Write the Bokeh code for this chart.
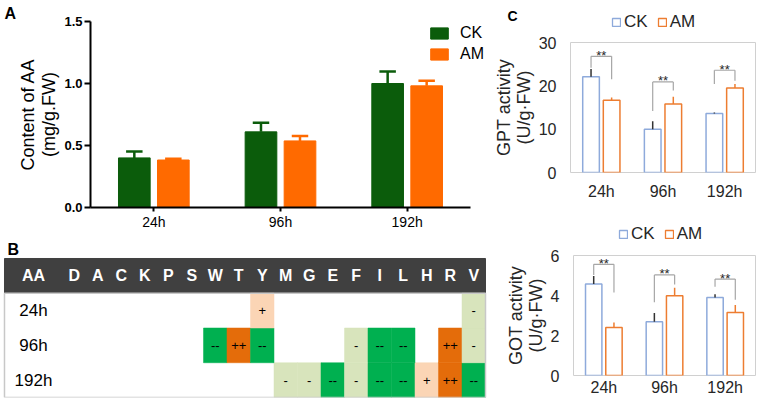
from bokeh.plotting import figure
from bokeh.models import (Range1d, ColumnDataSource, FixedTicker, PrintfTickFormatter,
                          Legend, LegendItem, Label, Title)
from bokeh.layouts import row, column
from bokeh.core.properties import value
from bokeh.embed import file_html
from bokeh.resources import INLINE

FONT = "Liberation Sans"

# ---------------- data ----------------
times = ["24h", "96h", "192h"]

# Panel A: content of AA (mg/g.FW)
aa_ck = [0.40, 0.61, 1.00]
aa_ck_top = [0.452, 0.683, 1.096]
aa_am = [0.383, 0.537, 0.981]
aa_am_top = [0.393, 0.577, 1.023]

# Panel B: amino-acid change table
aa_letters = ["D", "A", "C", "K", "P", "S", "W", "T", "Y", "M", "G", "E", "F", "I", "L", "H", "R", "V"]
row_labels = ["24h", "96h", "192h"]
marks_24h = ["", "", "", "", "", "", "", "", "+", "", "", "", "", "", "", "", "", "-"]
marks_96h = ["", "", "", "", "", "", "--", "++", "--", "", "", "", "-", "--", "--", "", "++", "-"]
marks_192h = ["", "", "", "", "", "", "", "", "", "-", "-", "--", "-", "--", "--", "+", "++", "--"]

# Panel C: GPT activity (U/g.FW)
gpt_ck = [22.1, 10.0, 13.6]
gpt_ck_top = [23.9, 11.8, 13.85]
gpt_am = [16.7, 15.8, 19.5]
gpt_am_top = [17.3, 17.5, 20.4]
gpt_sig_top = [26.8, 20.9, 23.6]
gpt_sig_left = [24.2, 14.2, 20.4]
gpt_sig_right = [21.5, 18.9, 21.2]

# Panel C: GOT activity (U/g.FW)
got_ck = [4.58, 2.69, 3.90]
got_ck_top = [4.98, 3.13, 4.06]
got_am = [2.40, 3.99, 3.15]
got_am_top = [2.65, 4.39, 3.53]
got_sig_top = [5.56, 5.03, 4.82]
got_sig_left = [5.03, 3.66, 4.44]
got_sig_right = [4.15, 4.55, 3.79]

n_t = len(times)
xpos = [i + 0.5 for i in range(n_t)]

# ---------------- Panel A ----------------
CK_A = "#0b5c0b"
AM_A = "#ff6a00"
OFF_A = 0.154
W_A = 0.25
CAP_A = 0.065

pA = figure(width=490, height=232, x_range=Range1d(0, 3.158), y_range=Range1d(0, 1.5),
            output_backend="svg", toolbar_location=None, frame_align=False,
            min_border_left=90, min_border_right=0, min_border_top=21, min_border_bottom=23)
pA.outline_line_color = None
pA.grid.grid_line_color = None

srcA = ColumnDataSource(dict(
    xc=[x - OFF_A for x in xpos], xa=[x + OFF_A for x in xpos],
    xc0=[x - OFF_A - CAP_A for x in xpos], xc1=[x - OFF_A + CAP_A for x in xpos],
    xa0=[x + OFF_A - CAP_A for x in xpos], xa1=[x + OFF_A + CAP_A for x in xpos],
    ck=aa_ck, ckt=aa_ck_top, am=aa_am, amt=aa_am_top))
r_ck = pA.vbar(x="xc", top="ck", width=W_A, source=srcA, fill_color=CK_A, line_color=CK_A)
r_am = pA.vbar(x="xa", top="am", width=W_A, source=srcA, fill_color=AM_A, line_color=AM_A)
for xc, x0, x1, lo, hi, col in [("xc", "xc0", "xc1", "ck", "ckt", CK_A),
                                ("xa", "xa0", "xa1", "am", "amt", AM_A)]:
    pA.segment(x0=xc, x1=xc, y0=lo, y1=hi, source=srcA, line_color=col, line_width=2.5)
    pA.segment(x0=x0, x1=x1, y0=hi, y1=hi, source=srcA, line_color=col, line_width=2.5)

pA.xaxis.ticker = FixedTicker(ticks=xpos)
pA.xaxis.major_label_overrides = {x: t for x, t in zip(xpos, times)}
pA.xaxis.bounds = (0, n_t)
pA.yaxis.ticker = FixedTicker(ticks=[0, 0.5, 1.0, 1.5])
pA.yaxis.formatter = PrintfTickFormatter(format="%.1f")
for ax in (pA.xaxis[0], pA.yaxis[0]):
    ax.axis_line_width = 2
    ax.axis_line_color = "black"
    ax.major_tick_line_width = 2
    ax.major_tick_line_color = "black"
    ax.minor_tick_line_color = None
    ax.major_tick_out = 6
    ax.major_tick_in = 0
    ax.major_label_text_font = FONT
    ax.major_label_text_color = "black"
pA.yaxis.major_label_text_font_style = "bold"
pA.yaxis.major_label_text_font_size = "13px"
pA.yaxis.major_label_standoff = 2
pA.xaxis.major_label_text_font_size = "14px"
pA.xaxis.major_label_standoff = 2
pA.xaxis.major_tick_out = 4
pA.yaxis.axis_label = "Content of AA\n(mg/g.FW)"
pA.yaxis.axis_label_text_font = FONT
pA.yaxis.axis_label_text_font_size = "18px"
pA.yaxis.axis_label_text_font_style = "normal"
pA.yaxis.axis_label_text_color = "black"
pA.yaxis.axis_label_text_line_height = 1.05
pA.yaxis.axis_label_standoff = 2

legA = Legend(items=[LegendItem(label="CK", renderers=[r_ck]), LegendItem(label="AM", renderers=[r_am])],
              location=(338, 144), glyph_width=22, glyph_height=14, label_height=14, spacing=3,
              label_standoff=10, padding=0, margin=0, border_line_color=None,
              background_fill_alpha=0, label_text_font=FONT, label_text_font_size="16px",
              label_text_color="black")
pA.add_layout(legA, "center")
pA.add_layout(Title(text="A", align="left", offset=-86, standoff=0, text_font=FONT,
                    text_font_size="16px", text_font_style="bold", text_color="black"), "above")

# ---------------- Panel B ----------------
GREEN = "#00b050"
ORANGE = "#e46c0a"
LGREEN = "#d8e4bc"
PEACH = "#fbd5b5"
HEAD = "#404040"
col_of = {"--": GREEN, "-": LGREEN, "++": ORANGE, "+": PEACH}

n_col = len(aa_letters)
n_row = len(row_labels)
aa_w = 2.468
pB = figure(width=490, height=166, x_range=Range1d(-2.638, 18.213), y_range=Range1d(0, n_row + 1.748),
            output_backend="svg", toolbar_location=None, x_axis_location=None, y_axis_location=None,
            frame_align=False, min_border_left=0, min_border_right=0, min_border_top=0,
            min_border_bottom=1)
pB.grid.grid_line_color = None
pB.outline_line_color = None

pB.quad(left=[-aa_w], right=[n_col], bottom=[n_row], top=[n_row + 1], fill_color=HEAD, line_color=HEAD)
hx = [-aa_w / 2] + [i + 0.5 for i in range(n_col)]
ht = ["AA"] + aa_letters
pB.text(x=hx, y=[n_row + 0.5] * len(hx), text=ht, text_color="white", text_font=value(FONT),
        text_font_size="16px", text_font_style="bold", text_align="center", text_baseline="middle")

cx, cy, cc, ct = [], [], [], []
for r, marks in enumerate([marks_192h, marks_96h, marks_24h]):
    for i, m in enumerate(marks):
        if m:
            cx.append(i + 0.5)
            cy.append(r + 0.5)
            cc.append(col_of[m])
            ct.append(m)
srcB = ColumnDataSource(dict(x=cx, y=cy, c=cc, t=ct))
pB.rect(x="x", y="y", width=1, height=1, fill_color="c", line_color="c", line_width=0.5, source=srcB)
pB.text(x="x", y="y", text="t", text_font=value(FONT), text_font_size="13px", text_color="black",
        text_align="center", text_baseline="middle", source=srcB)
pB.text(x=[-aa_w / 2] * n_row, y=[n_row - 0.5 - k for k in range(n_row)], text=row_labels,
        text_font=value(FONT), text_font_size="17px", text_color="black", text_align="center",
        text_baseline="middle")
pB.quad(left=[-aa_w], right=[n_col], bottom=[0], top=[n_row], fill_color=None,
        line_color="#c8c8c8", line_width=1.5)
pB.add_layout(Label(x=7, y=157, x_units="screen", y_units="screen", text="B", text_font=FONT,
                    text_font_size="16px", text_font_style="bold", text_baseline="top",
                    text_color="black"))

# ---------------- Panel C ----------------
CK_C = "#8eaadb"
AM_C = "#ed7d31"
TXT = "#262626"
BRK = "#a6a6a6"


def header_c(height, leg_x, leg_y, letter=None):
    h = figure(width=267, height=height, x_range=Range1d(0, 1), y_range=Range1d(0, 1),
               output_backend="svg", toolbar_location=None, x_axis_location=None,
               y_axis_location=None, frame_align=False, min_border=0)
    h.grid.grid_line_color = None
    h.outline_line_color = None
    # swatch-only renderers for the legend (no drawable value)
    nan = float("nan")
    rc = h.vbar(x=[0.5], top=[nan], width=0.1, fill_color="white", line_color=CK_C, line_width=1.3)
    ra = h.vbar(x=[0.5], top=[nan], width=0.1, fill_color="white", line_color=AM_C, line_width=1.3)
    leg = Legend(items=[LegendItem(label="CK", renderers=[rc]), LegendItem(label="AM", renderers=[ra])],
                 location=(leg_x, leg_y), orientation="horizontal", glyph_width=10, glyph_height=10,
                 label_height=10, spacing=9, label_standoff=3, padding=0, margin=0,
                 border_line_color=None, background_fill_alpha=0, label_text_font=FONT,
                 label_text_font_size="17px", label_text_color=TXT)
    h.add_layout(leg, "center")
    if letter:
        h.add_layout(Label(x=17, y=height - 7, x_units="screen", y_units="screen", text=letter,
                           text_font=FONT, text_font_size="14px", text_font_style="bold",
                           text_baseline="top", text_color="black"))
    return h


def panel_c(height, mb_left, mb_top, mb_bottom, yend, ticks, ck, ckt, am, amt, st, sl, sr, ylabel,
            xstand):
    p = figure(width=267, height=height, x_range=Range1d(0, n_t), y_range=Range1d(0, yend),
               output_backend="svg", toolbar_location=None, frame_align=False,
               min_border_left=mb_left, min_border_right=2, min_border_top=mb_top,
               min_border_bottom=mb_bottom)
    p.grid.grid_line_color = None
    p.outline_line_color = "#d0d0d0"
    p.outline_line_width = 1
    off = 0.167
    w = 0.27
    src = ColumnDataSource(dict(xm=xpos, xc=[x - off for x in xpos], xa=[x + off for x in xpos],
                                ck=ck, ckt=ckt, am=am, amt=amt, st=st, sl=sl, sr=sr))
    p.vbar(x="xc", top="ck", width=w, source=src, fill_color="white", line_color=CK_C, line_width=1.5)
    p.vbar(x="xa", top="am", width=w, source=src, fill_color="white", line_color=AM_C, line_width=1.5)
    p.segment(x0="xc", x1="xc", y0="ck", y1="ckt", source=src, line_color="#333333", line_width=1.5)
    p.segment(x0="xa", x1="xa", y0="am", y1="amt", source=src, line_color=AM_C, line_width=1.5)
    # significance brackets
    p.segment(x0="xc", x1="xc", y0="sl", y1="st", source=src, line_color=BRK, line_width=1.2)
    p.segment(x0="xa", x1="xa", y0="sr", y1="st", source=src, line_color=BRK, line_width=1.2)
    p.segment(x0="xc", x1="xa", y0="st", y1="st", source=src, line_color=BRK, line_width=1.2)
    p.text(x="xm", y="st", text=value("**"), source=src, text_font=value(FONT), text_font_size="13px",
           text_color=TXT, text_align="center", text_baseline="alphabetic", y_offset=-1)

    p.xaxis.ticker = FixedTicker(ticks=xpos)
    p.xaxis.major_label_overrides = {x: t for x, t in zip(xpos, times)}
    p.yaxis.ticker = FixedTicker(ticks=ticks)
    for ax in (p.xaxis[0], p.yaxis[0]):
        ax.axis_line_color = None
        ax.major_tick_line_color = None
        ax.minor_tick_line_color = None
        ax.major_tick_out = 0
        ax.major_tick_in = 0
        ax.major_label_text_font = FONT
        ax.major_label_text_font_size = "16px"
        ax.major_label_text_color = TXT
    p.yaxis.major_label_standoff = 14
    p.xaxis.major_label_standoff = xstand
    p.yaxis.axis_label = ylabel
    p.yaxis.axis_label_text_font = FONT
    p.yaxis.axis_label_text_font_size = "18px"
    p.yaxis.axis_label_text_font_style = "normal"
    p.yaxis.axis_label_text_color = TXT
    p.yaxis.axis_label_text_line_height = 1.0
    p.yaxis.axis_label_standoff = 2
    return p


hC1 = header_c(32, 121, 0, "C")
pC1 = panel_c(182, 80, 10, 42, 30, [0, 10, 20, 30], gpt_ck, gpt_ck_top, gpt_am, gpt_am_top,
              gpt_sig_top, gpt_sig_left, gpt_sig_right, "GPT activity\n(U/g\u00b7FW)", 10)
hC2 = header_c(31, 128, 1)
pC2 = panel_c(153, 83, 10, 22, 6, [0, 2, 4, 6], got_ck, got_ck_top, got_am, got_am_top,
              got_sig_top, got_sig_left, got_sig_right, "GOT activity\n(U/g\u00b7FW)", 3)

layout = row(column(pA, pB), column(hC1, pC1, hC2, pC2))
open("out.html", "w").write(file_html(layout, INLINE))
